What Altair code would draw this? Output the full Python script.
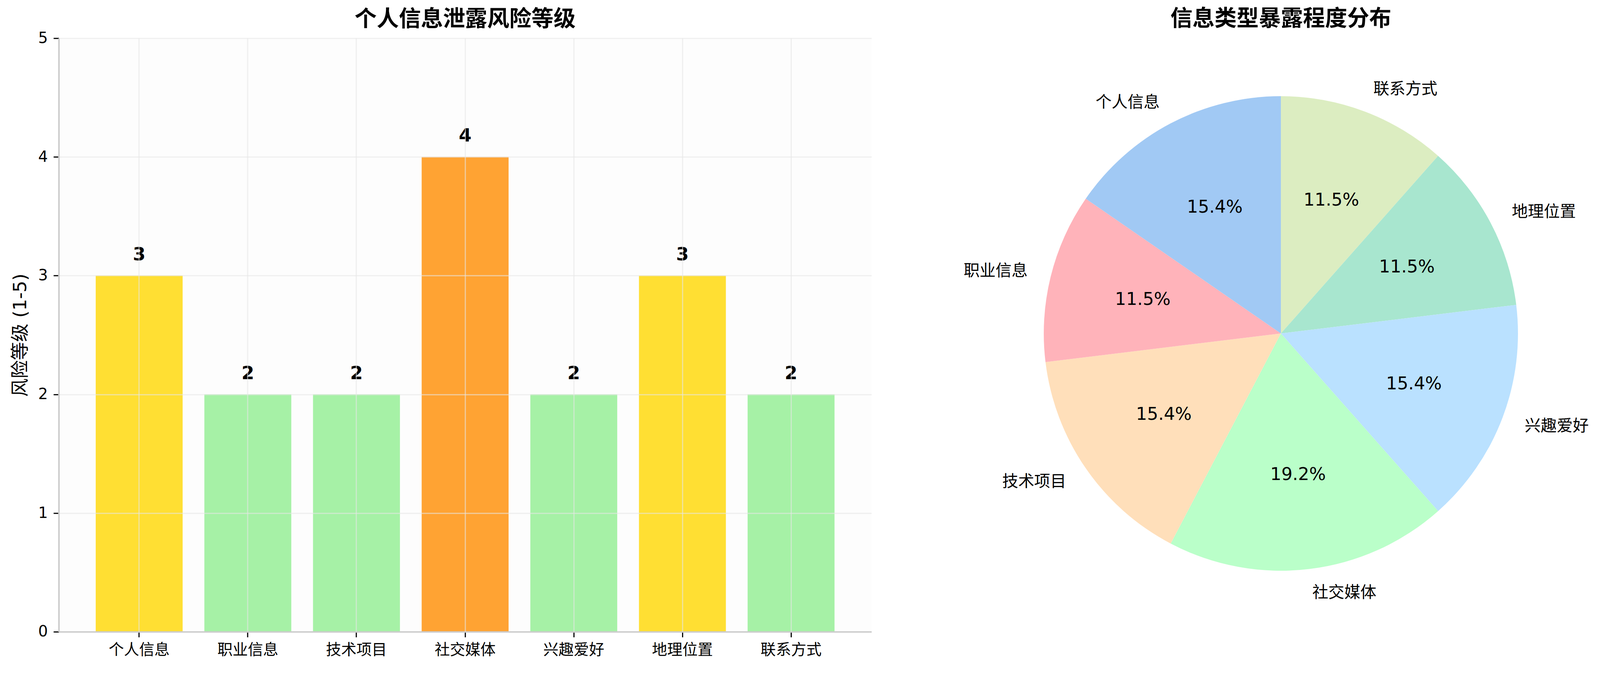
import math
import altair as alt
import pandas as pd

# ---- data ----
categories = ['个人信息', '职业信息', '技术项目', '社交媒体', '兴趣爱好', '地理位置', '联系方式']
risk_levels = [3, 2, 2, 4, 2, 3, 2]
exposure = [4, 3, 4, 5, 4, 3, 3]
pie_colors = ['#A1C9F4', '#FFB3BA', '#FFDFBA', '#BAFFC9', '#BAE1FF', '#A8E6CF', '#DCEDC1']
risk_domain = [2, 3, 4]
risk_colors = ['#A6F1A6', '#FFDF33', '#FFA333']

FONT = 'DejaVu Sans, Noto Sans CJK SC'
CJK = 'Noto Sans CJK SC'

# ---- bar chart ----
bar_df = pd.DataFrame({'cat': categories, 'risk': risk_levels})

BW, BH = 2132, 1556

xenc = alt.X('cat:N', sort=categories,
             scale=alt.Scale(paddingInner=0.2, paddingOuter=0.34),
             axis=alt.Axis(title=None, labelAngle=0, labelFont=CJK, labelFontSize=40,
                           labelColor='black', tickColor='black', tickSize=14, tickWidth=3,
                           labelPadding=14, domainColor='#cccccc', domainWidth=4,
                           grid=True, gridColor='#e6e6e6', gridOpacity=0.6, gridWidth=3,
                           bandPosition=0.5, zindex=1))
yenc = alt.Y('risk:Q', scale=alt.Scale(domain=[0, 5], nice=False),
             axis=alt.Axis(values=[0, 1, 2, 3, 4, 5], format='d', title='风险等级 (1-5)',
                           titleFont=FONT, titleFontSize=48, titleFontWeight='normal',
                           titleColor='black', titlePadding=22,
                           labelFont='DejaVu Sans', labelFontSize=40, labelColor='black',
                           tickColor='black', tickSize=14, tickWidth=3, labelPadding=15,
                           domainColor='#cccccc', domainWidth=4,
                           grid=True, gridColor='#e6e6e6', gridOpacity=0.6, gridWidth=3,
                           zindex=1))

bars = alt.Chart(bar_df).mark_bar().encode(
    x=xenc, y=yenc,
    color=alt.Color('risk:O', scale=alt.Scale(domain=risk_domain, range=risk_colors), legend=None),
)
bar_text = alt.Chart(bar_df).mark_text(font='DejaVu Sans', fontSize=48, fontWeight='bold',
                                       color='black', baseline='alphabetic', dy=-40).encode(
    x=alt.X('cat:N', sort=categories), y='risk:Q', text='risk:Q')

bar_chart = alt.layer(bars, bar_text).properties(
    width=BW, height=BH,
    title=alt.TitleParams('个人信息泄露风险等级', font=FONT, fontSize=58, fontWeight='bold',
                          color='black', anchor='middle', frame='group', offset=0),
    view=alt.ViewBackground(fill='#fdfdfd', stroke=None),
)

# ---- pie chart ----
total = sum(exposure)
order = list(range(len(categories)))[::-1]   # clockwise drawing order (matplotlib is counter-clockwise)
rows = []
acc = 0
for i in order:
    start = acc
    end = acc + exposure[i]
    mid = (start + end) / 2
    side = 'right' if math.sin(mid / total * 2 * math.pi) >= 0 else 'left'
    rows.append({'cat': categories[i], 'start': start, 'end': end, 'mid': mid, 'side': side,
                 'pct': f"{exposure[i] / total * 100:.1f}%"})
    acc = end
pie_df = pd.DataFrame(rows)

PW, PH = 1740, BH
CX, CY, R = 911, 774, 622
theta_scale = alt.Scale(domain=[0, total], range=[0, 2 * math.pi])

base = alt.Chart(pie_df)
arcs = base.mark_arc(outerRadius=R, innerRadius=0).encode(
    theta=alt.Theta('start:Q', scale=theta_scale),
    theta2='end:Q',
    x=alt.value(CX), y=alt.value(CY),
    color=alt.Color('cat:N', scale=alt.Scale(domain=categories, range=pie_colors), legend=None),
)
pct_text = base.mark_text(font='DejaVu Sans', fontSize=46, color='black', baseline='middle',
                          align='center').encode(
    theta=alt.Theta('mid:Q', scale=theta_scale),
    radius=alt.value(R * 0.6),
    x=alt.value(CX), y=alt.value(CY),
    text='pct:N')
lab_right = base.transform_filter(alt.datum.side == 'right').mark_text(
    font=CJK, fontSize=42, color='black', baseline='middle', align='left').encode(
    theta=alt.Theta('mid:Q', scale=theta_scale),
    radius=alt.value(R * 1.1),
    x=alt.value(CX), y=alt.value(CY),
    text='cat:N')
lab_left = base.transform_filter(alt.datum.side == 'left').mark_text(
    font=CJK, fontSize=42, color='black', baseline='middle', align='right').encode(
    theta=alt.Theta('mid:Q', scale=theta_scale),
    radius=alt.value(R * 1.1),
    x=alt.value(CX), y=alt.value(CY),
    text='cat:N')

pie_chart = alt.layer(arcs, pct_text, lab_right, lab_left).properties(
    width=PW, height=PH,
    title=alt.TitleParams('信息类型暴露程度分布', font=FONT, fontSize=58, fontWeight='bold',
                          color='black', anchor='middle', frame='group', offset=21,
                          dx=CX - PW / 2),
    view=alt.ViewBackground(fill=None, stroke=None),
)

chart = alt.hconcat(bar_chart, pie_chart, spacing=163).resolve_scale(
    color='independent', theta='independent'
).properties(
    padding={'left': 21, 'top': -8, 'right': 0, 'bottom': 0},
    background='white',
).configure_view(stroke=None)

chart.save("out.html", embed_options={"renderer": "svg", "actions": False})
